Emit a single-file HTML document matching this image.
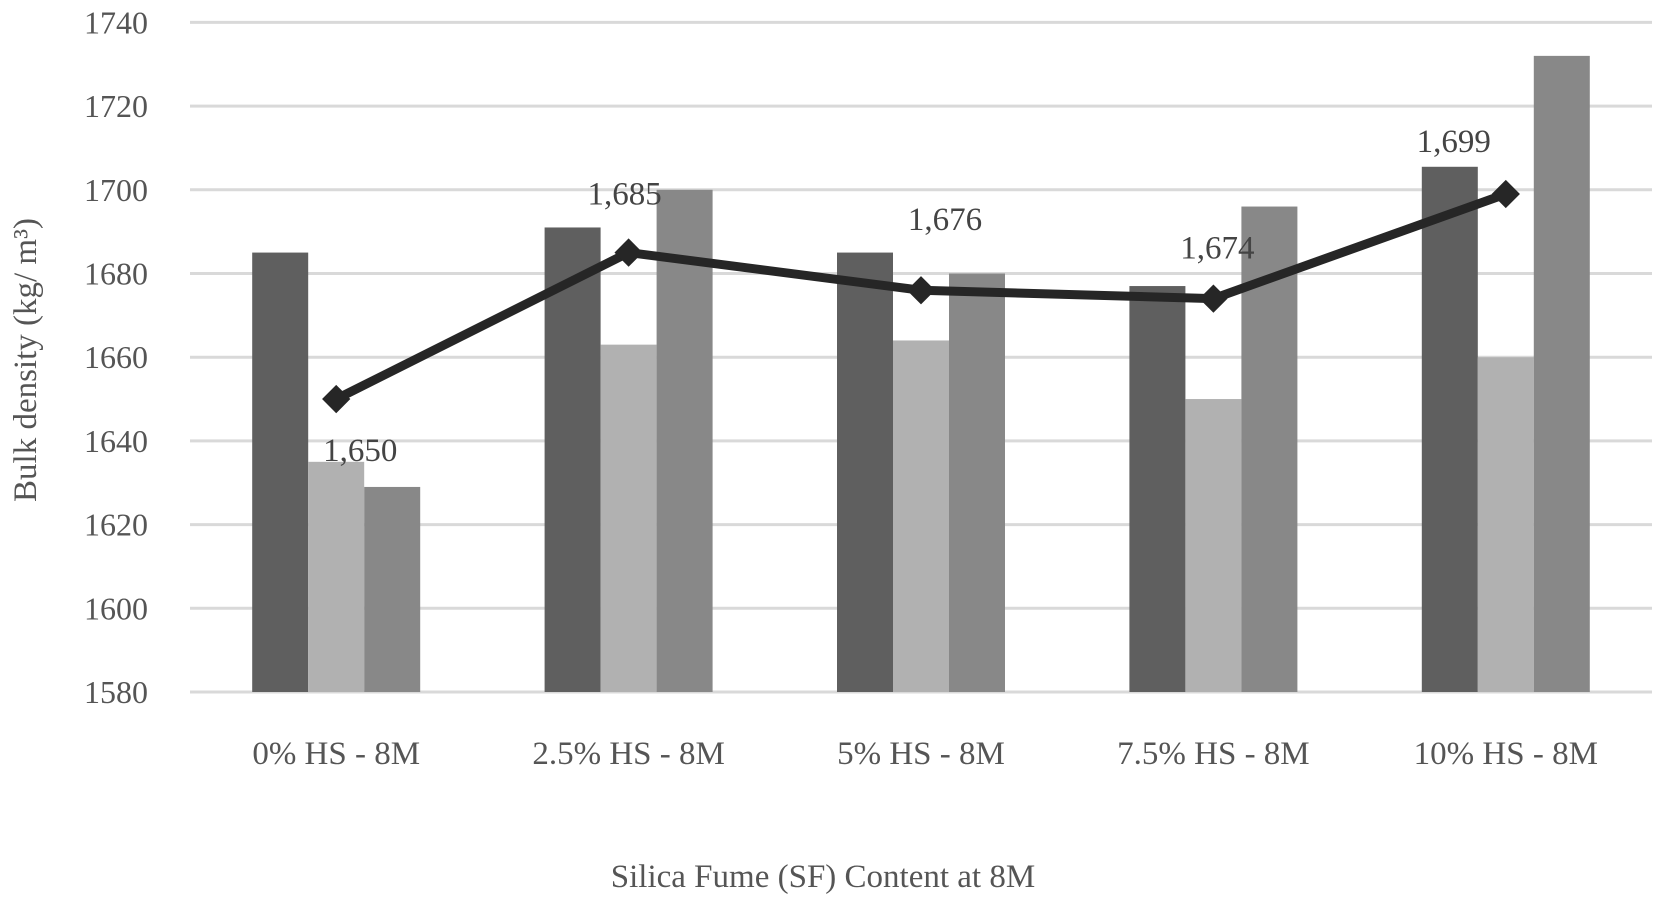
<!DOCTYPE html>
<html><head><meta charset="utf-8"><style>
html,body{margin:0;padding:0;background:#fff;}
svg{display:block;font-family:"Liberation Serif",serif;}
</style></head><body>
<svg id="chart" width="1654" height="904" viewBox="0 0 1654 904"></svg>
<script>
const categories = ["0% HS - 8M","2.5% HS - 8M","5% HS - 8M","7.5% HS - 8M","10% HS - 8M"];
const seriesA = [1685,1691,1685,1677,1705.5];
const seriesB = [1635,1663,1664,1650,1660];
const seriesC = [1629,1700,1680,1696,1732];
const lineValues = [1650,1685,1676,1674,1699];
const lineLabels = ["1,650","1,685","1,676","1,674","1,699"];
const yTicks = [1580,1600,1620,1640,1660,1680,1700,1720,1740];

const NS="http://www.w3.org/2000/svg";
const svg=document.getElementById('chart');
const left=190,right=1652,y0=692,yMin=1580,pxPer=83.7/20;
const catW=(right-left)/categories.length, barW=56;
function y(v){return y0-(v-yMin)*pxPer;}
function cx(i){return left+catW*(i+0.5);}
function mk(tag,attrs){const e=document.createElementNS(NS,tag);for(const k in attrs)e.setAttribute(k,attrs[k]);svg.appendChild(e);return e;}

yTicks.forEach(t=>{
  const g=mk('line',{x1:left,x2:right,y1:y(t),y2:y(t),stroke:'#d9d9d9','stroke-width':3});
  
  
  const l=mk('text',{x:148,y:y(t)+11,'text-anchor':'end','font-size':32,fill:'#555'});
  l.textContent=t;
  
  
});
const series=[[seriesA,'#5f5f5f'],[seriesB,'#b1b1b1'],[seriesC,'#888888']];
categories.forEach((c,i)=>{
  series.forEach(([vals,col],s)=>{
    const x=cx(i)-1.5*barW+s*barW;
    const r=mk('rect',{x:x,y:y(vals[i]),width:barW,height:y0-y(vals[i]),fill:col});
    
    
  });
  const t=mk('text',{x:cx(i),y:764,'text-anchor':'middle','font-size':33,fill:'#555'});
  t.textContent=c;
  
  
});
const pts=lineValues.map((v,i)=>cx(i)+','+y(v)).join(' ');
const pl=mk('polyline',{points:pts,fill:'none',stroke:'#262626','stroke-width':9,'stroke-linejoin':'round'});


const labOff=[[24,62],[-4,-48],[24,-60],[4,-40],[-52,-42]];
lineValues.forEach((v,i)=>{
  const x=cx(i),yy=y(v);
  const m=mk('rect',{x:x-10,y:yy-10,width:20,height:20,fill:'#262626',transform:`rotate(45 ${x} ${yy})`});
  
  
  const t=mk('text',{x:x+labOff[i][0],y:yy+labOff[i][1],'text-anchor':'middle','font-size':33,fill:'#444'});
  t.textContent=lineLabels[i];
  
  
});
const yt=mk('text',{x:0,y:0,'text-anchor':'middle','font-size':33,fill:'#555',transform:'translate(36,360) rotate(-90)'});
yt.textContent='Bulk density (kg/ m³)';


const xt=mk('text',{x:823,y:887,'text-anchor':'middle','font-size':33,fill:'#555'});
xt.textContent='Silica Fume (SF) Content at 8M';


</script>
</body></html>
